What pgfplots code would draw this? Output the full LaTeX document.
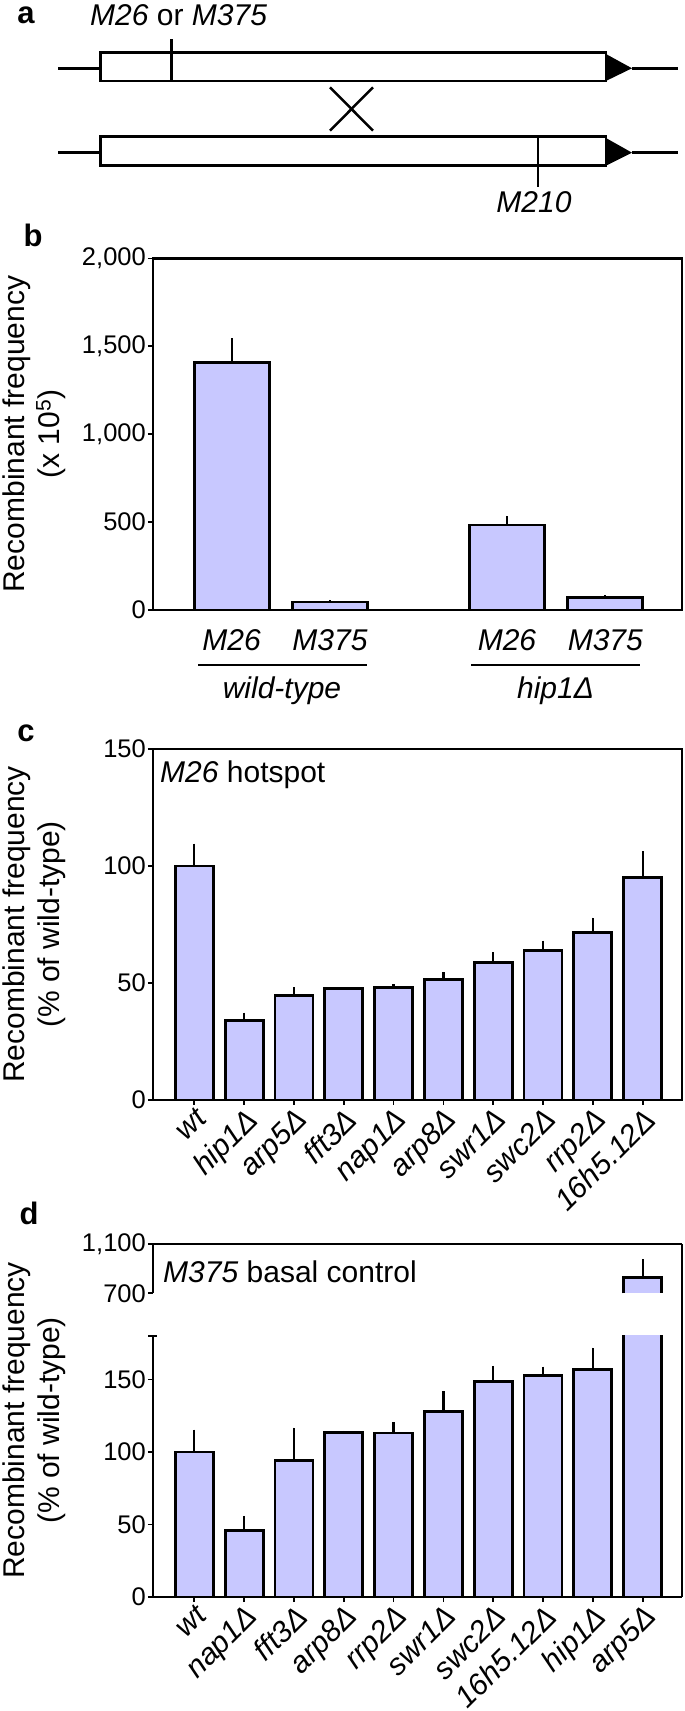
\documentclass[border=0pt]{standalone}
\usepackage{fontspec}
\setmainfont{Liberation Sans}
\usepackage{pgfplots}
\usepackage{pgfplotstable}
\pgfplotsset{compat=1.18}
\definecolor{barcol}{RGB}{200,200,255}
\newcommand\ftick{\fontsize{25.5}{29}\selectfont}
\newcommand\ftext{\fontsize{30}{35}\selectfont}
\newcommand\flet{\fontsize{31}{34}\selectfont\bfseries}

\pgfplotstableread{
x y e
0 1407 138
1 45 12
2.8 483 52
3.8 72 13
}\tabB

\pgfplotstableread{
x y e
0 100 9.6
1 34 3.3
2 44.7 3.4
3 47.6 0.5
4 48 1.4
5 51.6 3.1
6 58.9 4.2
7 64 4.1
8 71.6 6.3
9 95.1 11.3
}\tabC

\pgfplotstableread{
x y e
0 100 15.4
1 45.7 10.2
2 94.2 22.6
3 113.6 0.9
4 113.1 7.4
5 128.1 14.1
6 148.8 10.6
7 152.8 6.0
8 157.1 14.8
9 827 149
}\tabD

\pgfplotsset{
 mybase/.style={
  scale only axis, width=529pt,
  axis line style={line width=2.2pt},
  every tick/.style={black, line width=1.8pt},
  major tick length=5pt,
  tick align=outside,
  tick pos=left,
  clip mode=individual,
  yticklabel style={font=\ftick, inner sep=2pt},
  /pgf/number format/assume math mode=true,
  /pgf/number format/1000 sep={,},
  ylabel style={font=\ftext, align=center, at={(axis description cs:-0.224,0.5)}, anchor=center},
 },
 mybar/.style={fill=barcol, draw=black, line width=2.8pt,
   error bars/.cd, y dir=plus, y explicit, error mark=none,
   error bar style={line width=2.2pt, black}},
 mybarfill/.style={fill=barcol, draw=none,
   error bars/.cd, y dir=plus, y explicit, error mark=none,
   error bar style={line width=2.2pt, draw=black}},
}

\begin{document}
\begin{tikzpicture}[x=1pt,y=1pt]
\useasboundingbox (0,0) rectangle (685,1711);

% ---------- panel a (schematic) ----------
\begin{scope}[line width=2.5pt]
\draw (58,1642.7) -- (100.6,1642.7);
\draw (100.6,1630) rectangle (605.9,1658.3);
\fill (605.9,1657) -- (605.9,1630) -- (632,1642.7) -- cycle;
\draw (632,1642.7) -- (678,1642.7);
\draw (171.5,1671.7) -- (171.5,1630);
\draw (330,1623.7) -- (373,1580.3);
\draw (330,1580.3) -- (373,1623.7);
\draw (58,1558.3) -- (100.6,1558.3);
\draw (100.6,1545.3) rectangle (605.9,1574.3);
\fill (605.9,1573) -- (605.9,1545.3) -- (632,1558.3) -- cycle;
\draw (632,1558.3) -- (678,1558.3);
\draw (538,1574.3) -- (538,1524);
\end{scope}
\node[anchor=west, inner sep=0pt, font=\ftext] at (90,1696) {\textit{M26} or \textit{M375}};
\node[anchor=north, inner sep=0pt, font=\ftext\itshape] at (534,1520) {M210};

% panel letters
\node[font=\flet] at (26,1696) {a};
\node[font=\flet] at (33,1476) {b};
\node[font=\flet] at (26,978) {c};
\node[font=\flet] at (29,498) {d};

% ---------- panel b ----------
\begin{axis}[mybase, ybar, at={(153pt,1101pt)}, anchor=south west, height=351.5pt,
 xmin=-0.8, xmax=4.58, ymin=0, ymax=2000, ytick={0,500,1000,1500,2000},
 xtick={0,1,2.8,3.8}, xticklabels={M26,M375,M26,M375},
 xticklabel style={font=\ftext\itshape, anchor=base, yshift=-36pt},
 x tick style={draw=none}, bar width=75pt,
 ylabel={Recombinant frequency\\(x 10\textsuperscript{5})}]
\addplot[mybar] table[x=x,y=y,y error=e]{\tabB};
\end{axis}
\draw[line width=2.5pt] (198,1046) -- (367,1046);
\draw[line width=2.5pt] (471,1046) -- (640,1046);
\node[font=\ftext\itshape] at (282,1020.3) {wild-type};
\node[font=\ftext\itshape] at (555.5,1020.3) {hip1Δ};

% ---------- panel c ----------
\begin{axis}[mybase, ybar, at={(153pt,611pt)}, anchor=south west, height=351pt,
 xmin=-0.83, xmax=9.79, ymin=0, ymax=150, ytick={0,50,100,150},
 xtick={0,...,9}, xticklabels={wt,hip1Δ,arp5Δ,fft3Δ,nap1Δ,arp8Δ,swr1Δ,swc2Δ,rrp2Δ,16h5.12Δ},
 xticklabel style={font=\ftext\itshape, rotate=45, anchor=north east, inner sep=1pt},
 bar width=38pt, ylabel={Recombinant frequency\\(\% of wild-type)}]
\addplot[mybar] table[x=x,y=y,y error=e]{\tabC};
\node[anchor=west, inner sep=0pt, font=\ftext, xshift=7pt, yshift=-26pt] at (rel axis cs:0,1) {\textit{M26} hotspot};
\end{axis}

% ---------- panel d (broken axis) ----------
\begin{axis}[mybase, ybar, at={(153pt,114pt)}, anchor=south west, height=261pt,
 axis x line*=bottom, axis y line*=left,
 xmin=-0.83, xmax=9.79, ymin=0, ymax=180, ytick={0,50,100,150},
 extra y ticks={180}, extra y tick labels={},
 extra y tick style={tick align=center, major tick length=9pt},
 xtick={0,...,9}, xticklabels={wt,nap1Δ,fft3Δ,arp8Δ,rrp2Δ,swr1Δ,swc2Δ,16h5.12Δ,hip1Δ,arp5Δ},
 xticklabel style={font=\ftext\itshape, rotate=45, anchor=north east, inner sep=1pt},
 bar width=38pt,
 ylabel style={at={(axis description cs:-0.224,0.676)}},
 ylabel={Recombinant frequency\\(\% of wild-type)}]
\addplot[mybar] table[x=x,y=y,y error=e]{\tabD};
\draw[line width=2.2pt] (rel axis cs:1,0) -- (rel axis cs:1,1.3525);
\end{axis}
\begin{axis}[mybase, at={(153pt,417.7pt)}, anchor=south west, height=49.3pt,
 axis x line=none, axis y line*=left, xtick=\empty,
 xmin=-0.83, xmax=9.79, ymin=700, ymax=1100, ytick={700,1100}]
% upper piece of the arp5 bar (827, error +149): fill only, outline without bottom edge
\addplot[ybar, bar shift=0pt, bar width=38pt, mybarfill] coordinates {(9,827) +- (0,149)};
\addplot[sharp plot, no marks, black, line width=2.8pt, line join=miter] coordinates {(8.6185,700) (8.6185,827) (9.3815,827) (9.3815,700)};
\draw[line width=2.2pt] (rel axis cs:0,1) -- (rel axis cs:1,1);
\node[anchor=west, inner sep=0pt, font=\ftext, xshift=10pt] at (rel axis cs:0,0.432) {\textit{M375} basal control};
\end{axis}
\end{tikzpicture}
\end{document}
